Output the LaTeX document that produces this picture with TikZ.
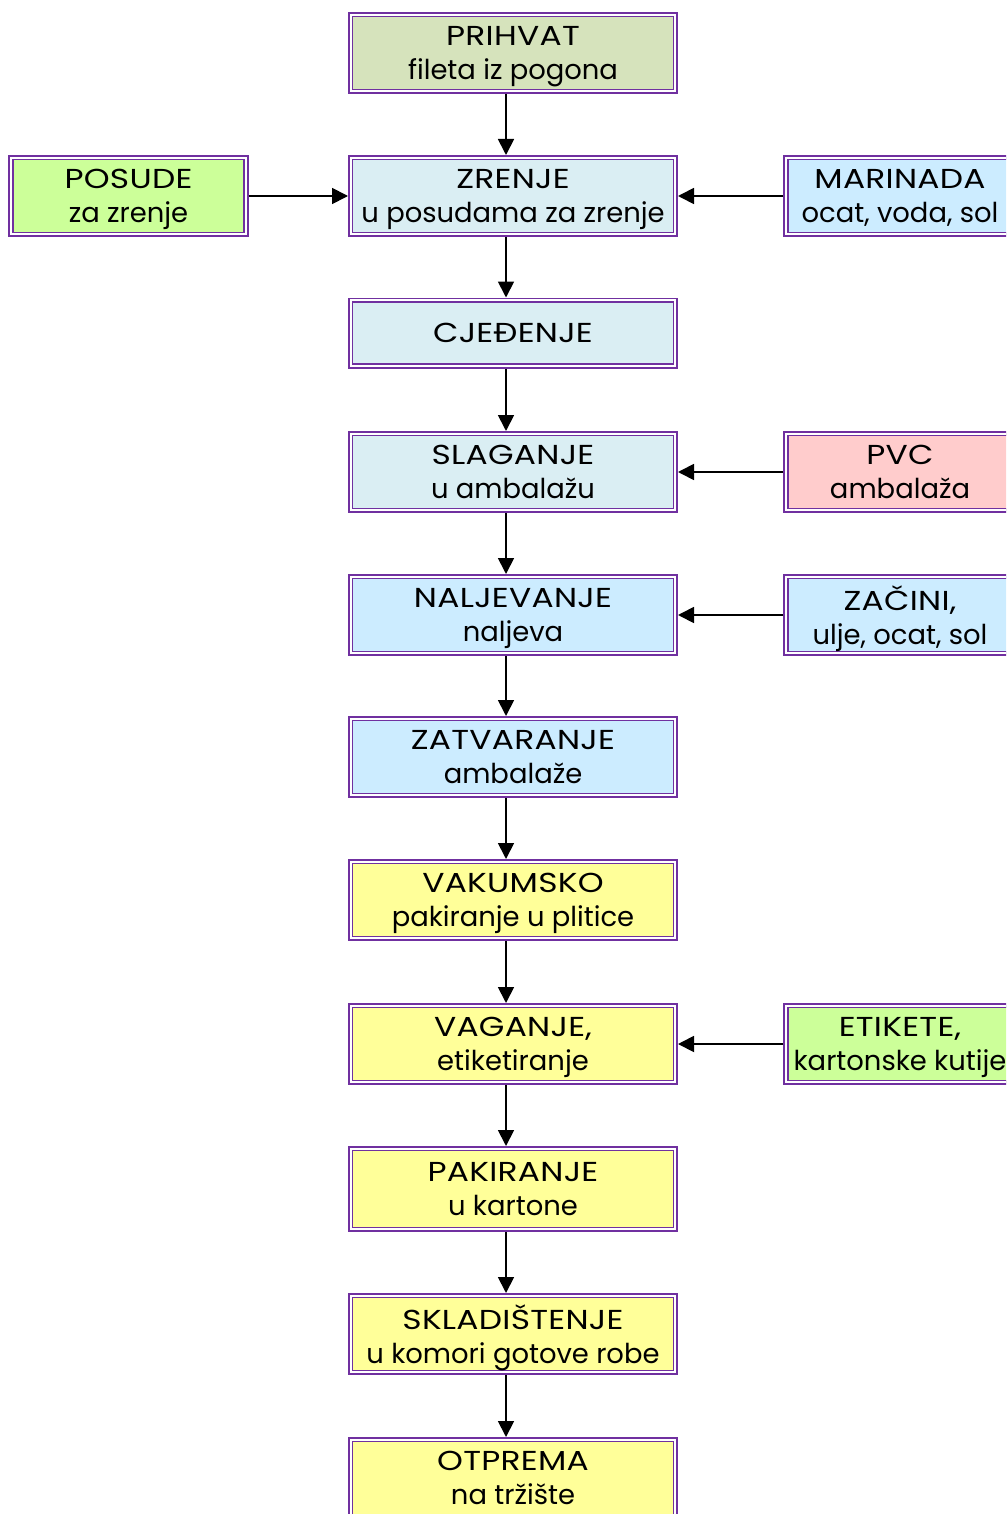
\documentclass[tikz,border=0pt]{standalone}
\usepackage{fontspec}
\setmainfont{Poppins}
\newfontfamily\capsfont[FakeStretch=1.2, LetterSpace=1]{Poppins}
\usetikzlibrary{positioning, arrows.meta}

% colours of the boxes
\definecolor{frame}{HTML}{7030A0}
\definecolor{olive}{HTML}{D6E3BC}
\definecolor{steel}{HTML}{DAEEF3}
\definecolor{sky}{HTML}{CCECFF}
\definecolor{lemon}{HTML}{FFFF99}
\definecolor{lime}{HTML}{CCFF99}
\definecolor{rose}{HTML}{FFCCCC}

% heading line of a box
\newcommand{\hd}[1]{{\capsfont #1}}

\tikzset{
  box/.style={draw=frame, line width=0.85pt, double=white, double distance=1pt,
    outer sep=1.35pt, inner sep=0pt, align=center, text=black, text depth=0pt,
    font=\fontsize{13.7}{17.2}\selectfont},
  mainbox/.style={box, minimum width=162.3pt, minimum height=38.3pt},
  sidebox/.style={box, minimum width=117.5pt, minimum height=38.3pt},
  feed/.style={-{Triangle[length=8pt,width=8pt]}, line width=0.9pt},
}

\begin{document}
\begin{tikzpicture}[x=0.5pt, y=-0.5pt]
    \clip (0,0) rectangle (1006,1514);
    \fill[white] (0,0) rectangle (1006,1514);

    % main column
    \node[mainbox, fill=olive] (prihvat) at (513,53) {\hd{PRIHVAT}\\fileta iz pogona};
    \node[mainbox, fill=steel] (zrenje) at (513,196) {\hd{ZRENJE}\\u posudama za zrenje};
    \node[mainbox, fill=steel, minimum height=32.8pt] (cjedenje) at (513,333) {\hd{CJEĐENJE}};
    \node[mainbox, fill=steel] (slaganje) at (513,472) {\hd{SLAGANJE}\\u ambalažu};
    \node[mainbox, fill=sky] (naljevanje) at (513,615) {\hd{NALJEVANJE}\\naljeva};
    \node[mainbox, fill=sky] (zatvaranje) at (513,757) {\hd{ZATVARANJE}\\ambalaže};
    \node[mainbox, fill=lemon] (vakumsko) at (513,900) {\hd{VAKUMSKO}\\pakiranje u plitice};
    \node[mainbox, fill=lemon] (vaganje) at (513,1044) {\hd{VAGANJE,}\\etiketiranje};
    \node[mainbox, fill=lemon, minimum height=40.3pt] (pakiranje) at (513,1189) {\hd{PAKIRANJE}\\u kartone};
    \node[mainbox, fill=lemon] (skladistenje) at (513,1334) {\hd{SKLADIŠTENJE}\\u komori gotove robe};
    \node[mainbox, fill=lemon] (otprema) at (513,1478) {\hd{OTPREMA}\\na tržište};

    % inputs from the sides
    \node[sidebox, fill=lime] (posude) at (128.5,196) {\hd{POSUDE}\\za zrenje};
    \node[sidebox, fill=sky, minimum width=114pt] (marinada) at (900,196) {\hd{MARINADA}\\ocat, voda, sol};
    \node[sidebox, fill=rose, minimum width=114pt] (pvc) at (900,472) {\hd{PVC}\\ambalaža};
    \node[sidebox, fill=sky, minimum width=114pt] (zacini) at (900,615) {\hd{ZAČINI,}\\ulje, ocat, sol};
    \node[sidebox, fill=lime, minimum width=114pt] (etikete) at (900,1044) {\hd{ETIKETE,}\\kartonske kutije};

    % flow down the column
    \foreach \a/\b in {prihvat/zrenje, zrenje/cjedenje, cjedenje/slaganje,
        slaganje/naljevanje, naljevanje/zatvaranje, zatvaranje/vakumsko,
        vakumsko/vaganje, vaganje/pakiranje, pakiranje/skladistenje,
        skladistenje/otprema}
        \draw[feed] ([xshift=-3.5pt]\a.south) -- ([xshift=-3.5pt]\b.north);

    % side feeds
    \draw[feed] (posude.east) -- (zrenje.west);
    \foreach \a/\b in {marinada/zrenje, pvc/slaganje, zacini/naljevanje, etikete/vaganje}
        \draw[feed] (\a.west) -- (\b.east);
\end{tikzpicture}
\end{document}
